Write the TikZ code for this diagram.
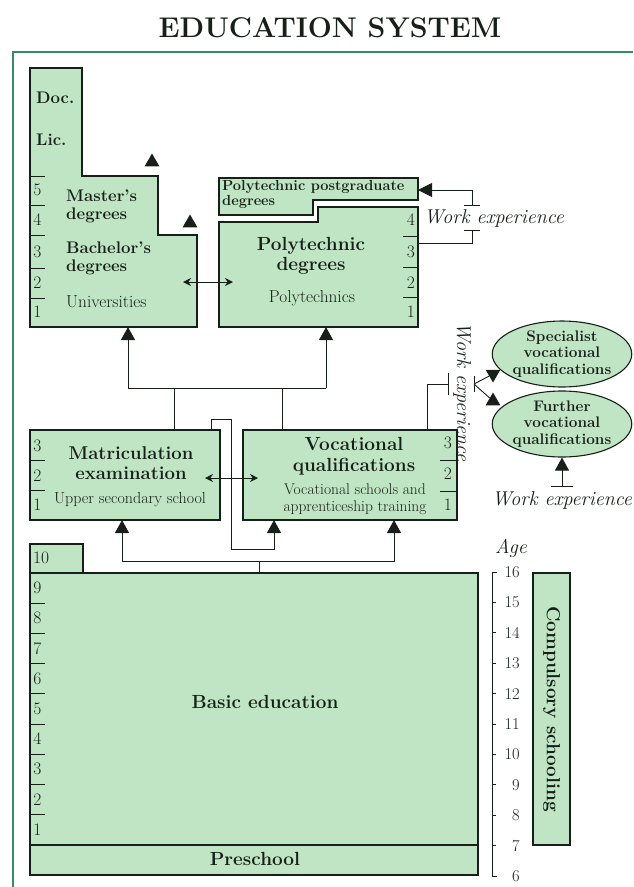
\documentclass[tikz,border=0pt]{standalone}
\usepackage{fontspec}
\usetikzlibrary{arrows.meta,shapes.geometric}
\definecolor{boxgreen}{RGB}{192,229,196}
\definecolor{framegreen}{RGB}{52,140,96}
\definecolor{ink}{RGB}{22,32,24}
\begin{document}
\begin{tikzpicture}[x=1pt,y=-1pt,
  box/.style={draw=ink, fill=boxgreen, line width=1.1pt},
  rbox/.style={box, anchor=north west, inner sep=0pt, outer sep=0pt},
  conn/.style={draw=ink, line width=0.9pt},
  up/.style={conn, -{Triangle[length=13pt,width=14pt]}},
  dbl/.style={conn, {Stealth[length=8pt,width=8pt]}-{Stealth[length=8pt,width=8pt]}},
  tk/.style={draw=ink, line width=1pt},
  yr/.style={font=\fontsize{17.5}{17.5}\selectfont, inner sep=0pt, text=ink},
  bt/.style={font=\bfseries\fontsize{16.8}{18}\selectfont, inner sep=0pt, align=left, text=ink},
  bbig/.style={font=\bfseries\fontsize{19}{20.5}\selectfont, inner sep=0pt, align=center, text=ink},
  rt/.style={font=\fontsize{17.3}{17.3}\selectfont, inner sep=0pt, text=ink},
  rsm/.style={font=\fontsize{15.5}{17}\selectfont, inner sep=0pt, align=center, text=ink},
  wx/.style={font=\itshape\fontsize{20}{20}\selectfont, inner sep=0pt, text=ink},
  ell/.style={box, ellipse, inner sep=0pt, align=center, font=\bfseries\fontsize{15.3}{16.5}\selectfont, text=ink},
  tri/.style={fill=ink, regular polygon, regular polygon sides=3, minimum size=17pt, inner sep=0pt},
  tbar/.style={draw=ink, line width=1pt}
]
\useasboundingbox (0,0) rectangle (633,887);

% title and frame
\node[font=\bfseries\fontsize{28.5}{28.5}\selectfont, text=ink] (title) at (330,28) {EDUCATION SYSTEM};
\draw[framegreen, line width=1.6pt] (13,887) -- (13,52) -- (633,52);

% ---------- Universities ----------
\path[box] (30,68) -- (82,68) -- (82,176) -- (158,176) -- (158,235) -- (197,235) -- (197,327) -- (30,327) -- cycle;
\coordinate (univ-s) at (128,327);
\coordinate (ua) at (183,282);
\node[bt, anchor=west] (doc) at (36,98) {Doc.};
\node[bt, anchor=west] (lic) at (36,140) {Lic.};
\node[bt, anchor=west] (mast) at (66,206) {Master's\\degrees};
\node[bt, anchor=west] (bach) at (66,258) {Bachelor's\\degrees};
\node[rt, anchor=west] (univ) at (66,302) {Universities};
\foreach \n/\y in {5/190,4/220,3/252,2/283,1/312} \node[yr] at (37.5,\y) {\n};
\foreach \y in {176,205,235,268,298} \draw[tk] (30,\y) -- (45,\y);
\node[tri] (tri1) at (152,162) {};
\node[tri] (tri2) at (190,223) {};

% ---------- Polytechnics ----------
\path[box] (219,178) -- (418,178) -- (418,200) -- (313,200) -- (313,215) -- (219,215) -- cycle;
\node[font=\bfseries\fontsize{14.6}{15}\selectfont, anchor=west, align=left, inner sep=0pt, text=ink] (pgtxt) at (222,194) {Polytechnic postgraduate\\degrees};
\path[box] (219,222) -- (318,222) -- (318,207) -- (418,207) -- (418,327) -- (219,327) -- cycle;
\node[bbig] (polyd) at (311,256) {Polytechnic\\degrees};
\node[rt] (polytx) at (312,298) {Polytechnics};
\foreach \n/\y in {4/220,3/252,2/283,1/312} \node[yr] at (411,\y) {\n};
\foreach \y in {236,267,297} \draw[tk] (403,\y) -- (418,\y);
\coordinate (poly-s) at (326,327);
\coordinate (pa) at (233,282);
\coordinate (pg-e) at (418,190);
\coordinate (poly-e) at (418,243);
\draw[dbl] (ua) -- (pa);

% work experience (top)
\coordinate (we1b) at (472,205);
\coordinate (we1t) at (472,230);
\draw[conn, -{Triangle[length=14pt,width=14pt]}] (we1b) |- (pg-e);
\draw[conn] (we1t) |- (poly-e);
\draw[tbar] (464,205) -- (480,205);
\draw[tbar] (464,230) -- (480,230);
\node[wx] (we1) at (494,218) {Work experience};

% ---------- Upper secondary ----------
\node[rbox, minimum width=190, minimum height=90] (matric) at (30,430) {};
\node[font=\bfseries\fontsize{18.5}{20}\selectfont, align=center, inner sep=0pt, text=ink] (mattx) at (131,463) {Matriculation\\examination};
\node[font=\fontsize{16}{16}\selectfont, inner sep=0pt, text=ink] (uss) at (130,500) {Upper secondary school};
\foreach \n/\y in {3/446,2/476,1/505} \node[yr] at (37.5,\y) {\n};
\foreach \y in {460,490} \draw[tk] (30,\y) -- (45,\y);

\node[rbox, minimum width=214, minimum height=90] (voc) at (243,430) {};
\node[bbig] (voctx) at (354,456) {Vocational\\qualifications};
\node[rsm] (vocsub) at (355,499) {Vocational schools and\\apprenticeship training};
\foreach \n/\y in {3/443,2/474,1/505} \node[yr] at (448,\y) {\n};
\foreach \y in {460,491} \draw[tk] (440,\y) -- (457,\y);

\coordinate (ma) at (205,478);
\coordinate (va) at (258,478);
\draw[dbl] (ma) -- (va);

% connectors up to higher education
\coordinate (hubU) at (128,388);
\coordinate (hubP) at (326,388);
\coordinate (m-n) at (174,430);
\coordinate (v-n) at (282,430);
\draw[up] (hubU) -- (univ-s);
\draw[up] (hubP) -- (poly-s);
\draw[conn] (hubU) -- (hubP);
\draw[conn] (m-n) -- (m-n |- hubU);
\draw[conn] (v-n) -- (v-n |- hubU);

% loop from matriculation to vocational
\coordinate (m-n2) at (211,430);
\coordinate (v-s2) at (274,520);
\draw[up] (m-n2) -- (211,419) -- (231,419) -- (231,549) -| (v-s2);

% ---------- Specialist / further vocational ----------
\node[ell, minimum width=122, minimum height=65] (spec) at (562,354) {Specialist\\vocational\\qualifications};
\node[ell, minimum width=122, minimum height=66] (further) at (562,424) {Further\\vocational\\qualifications};

\coordinate (v-n3) at (427,430);
\coordinate (we2l) at (448,384);
\draw[conn] (v-n3) |- (we2l);
\draw[tbar] (448,373) -- (448,395);
\node[wx, rotate=-90] (we2) at (462,392) {Work experience};
\draw[tbar] (474,376) -- (474,392);
\coordinate (we2r) at (474,384);
\node[tri, rotate=180] (tdown) at (493,374) {};
\node[tri] (tup) at (493,401) {};
\draw[conn] (we2r) -- (tdown);
\draw[conn] (we2r) -- (tup);

\coordinate (we3) at (562,486);
\draw[up] (we3) -- (further);
\draw[tbar] (551,486) -- (573,486);
\node[wx] (we3t) at (562,500) {Work experience};

% ---------- Basic education ----------
\node[rbox, minimum width=53, minimum height=29] (g10) at (30,544) {};
\node[yr, anchor=west] at (33,558) {10};
\node[rbox, minimum width=448, minimum height=272] (basic) at (30,573) {};
\node[bbig] (basictx) at (265,702) {Basic education};
\node[rbox, minimum width=448, minimum height=30] (pre) at (30,845) {};
\node[bbig] (pretx) at (255,859) {Preschool};
\foreach \n [count=\i from 1] in {9,8,7,6,5,4,3,2,1} \node[yr] at (37.5,{573+30.2*(\i-0.5)}) {\n};
\foreach \i in {1,...,8} \draw[tk] (30,{573+30.2*\i}) -- (45,{573+30.2*\i});

\coordinate (b-n) at (259,573);
\coordinate (hubB) at (259,561);
\coordinate (m-s) at (122,520);
\coordinate (v-s) at (394,520);
\draw[conn] (b-n) -- (hubB);
\draw[up] (hubB) -| (m-s);
\draw[up] (hubB) -| (v-s);

% ---------- Age scale ----------
\node[wx] (age) at (511,548) {Age};
\draw[conn] (497,572) -- (492,572) -- (492,876) -- (497,876);
\foreach \a [count=\i from 0] in {16,15,14,13,12,11,10,9,8,7,6} {
  \draw[tk] (492,{572+30.4*\i}) -- (496,{572+30.4*\i});
  \node[yr, anchor=east, font=\fontsize{16.5}{16.5}\selectfont] at (520,{572+30.4*\i}) {\a};
}
\node[rbox, minimum width=37, minimum height=272] (comp) at (533,573) {};
\node[bbig, rotate=-90] (comptx) at (551.5,709) {Compulsory schooling};
\end{tikzpicture}
\end{document}
